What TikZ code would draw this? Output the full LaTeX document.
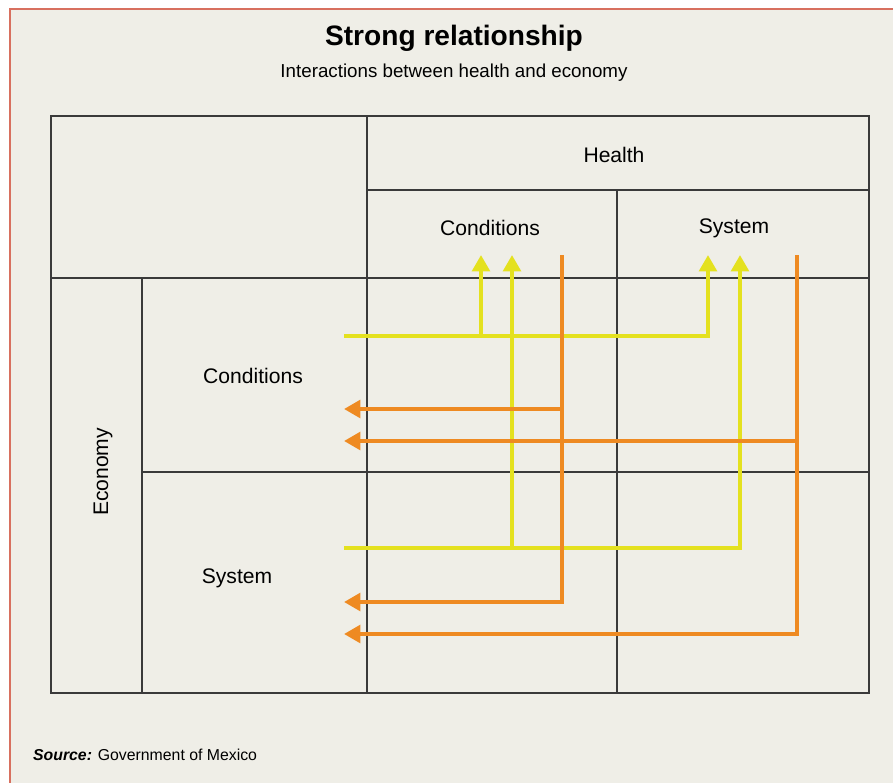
\documentclass[tikz,border=0pt]{standalone}
\usepackage{fontspec}
\setmainfont{Liberation Sans}
\usetikzlibrary{positioning,calc,arrows.meta}
\definecolor{paper}{HTML}{EFEEE7}
\definecolor{frame}{HTML}{D8705F}
\definecolor{hlyellow}{HTML}{E4E11F}
\definecolor{hlorange}{HTML}{EE8A22}
\definecolor{rule}{HTML}{3A3A3A}
\tikzset{
  cellname/.style={font=\fontsize{18}{21}\selectfont},
  ylink/.style={draw=hlyellow, line width=3.4pt},
  olink/.style={draw=hlorange, line width=3.4pt},
  ahead/.style={-{Triangle[width=15pt,length=14pt]}},
}

\begin{document}
\begin{tikzpicture}[x=0.03cm,y=-0.03cm]
    \useasboundingbox (0,0) rectangle (893,783);
    \fill[white] (0,0) rectangle (893,783);
    \fill[paper] (10,9) rectangle (893,783);
    \draw[frame, line width=1.5pt] (10,783) -- (10,9) -- (893,9);

    % table
    \draw[rule, line width=0.9pt] (51,116) rectangle (869,693);
    \draw[rule, line width=0.9pt] (367,116) -- (367,693);
    \draw[rule, line width=0.9pt] (367,190) -- (869,190);
    \draw[rule, line width=0.9pt] (51,278) -- (869,278);
    \draw[rule, line width=0.9pt] (617,190) -- (617,693);
    \draw[rule, line width=0.9pt] (142,278) -- (142,693);
    \draw[rule, line width=0.9pt] (142,472) -- (869,472);

    \node[anchor=base, font=\bfseries\fontsize{24}{28}\selectfont] (title) at (454,45) {Strong relationship};
    \node[anchor=base, font=\fontsize{16}{19}\selectfont] (subtitle) at (454,77) {Interactions between health and economy};
    \node[cellname] (health) at (614,155) {Health};
    \node[cellname] (hcond) at (490,228) {Conditions};
    \node[cellname] (hsys) at (734,228) {System};
    \node[cellname] (econ) at (103,472) [rotate=90] {Economy};
    \node[cellname] (econd) at (253,376) {Conditions};
    \node[cellname] (esys) at (237,578) {System};
    \node[anchor=base west, font=\fontsize{13.5}{16}\selectfont] (source) at (29,760) {\textbf{\textit{Source:}} Government of Mexico};

    % economy -> health
    \coordinate (ec1) at (344,336);
    \coordinate (ec1a) at (481,336);
    \coordinate (ec1b) at (708,336);
    \coordinate (hc1) at (481,255);
    \coordinate (hs1) at (708,255);
    \coordinate (es1) at (344,548);
    \coordinate (es1a) at (512,548);
    \coordinate (es1b) at (740,548);
    \coordinate (hc2) at (512,255);
    \coordinate (hs2) at (740,255);
    \draw[ylink, ahead] (ec1) -- (ec1b) -- (hs1);
    \draw[ylink, ahead] (ec1a) -- (hc1);
    \draw[ylink, ahead] (es1) -- (es1b) -- (hs2);
    \draw[ylink, ahead] (es1a) -- (hc2);

    % health -> economy
    \coordinate (hc3) at (562,255);
    \coordinate (hc3a) at (562,409);
    \coordinate (hc3b) at (562,602);
    \coordinate (ec2) at (344,409);
    \coordinate (es2) at (344,602);
    \coordinate (hs3) at (797,255);
    \coordinate (hs3a) at (797,441);
    \coordinate (hs3b) at (797,634);
    \coordinate (ec3) at (344,441);
    \coordinate (es3) at (344,634);
    \draw[olink, ahead] (hc3) -- (hc3b) -- (es2);
    \draw[olink, ahead] (hc3a) -- (ec2);
    \draw[olink, ahead] (hs3) -- (hs3b) -- (es3);
    \draw[olink, ahead] (hs3a) -- (ec3);
\end{tikzpicture}
\end{document}
